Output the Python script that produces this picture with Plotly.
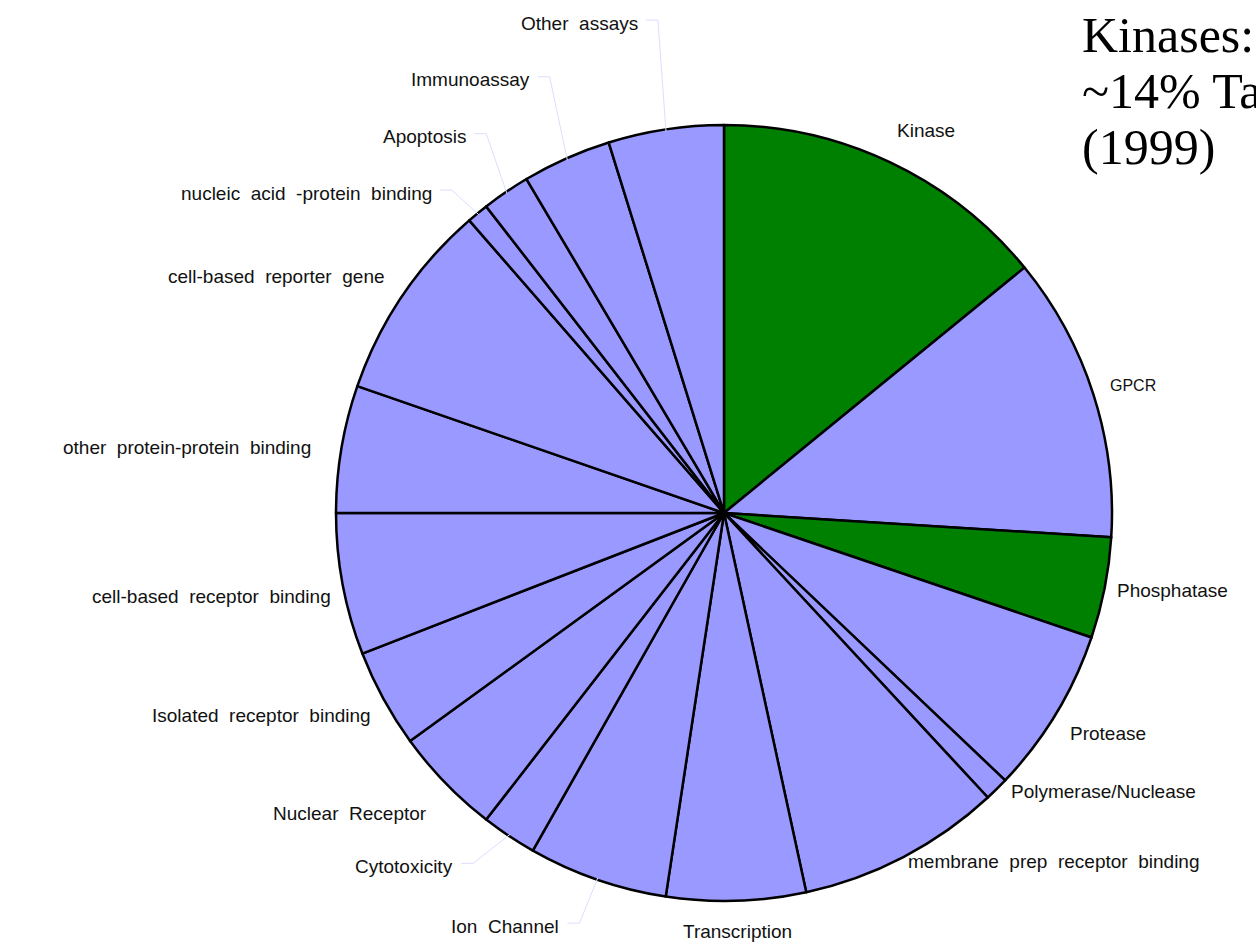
import math
import plotly.graph_objects as go

# ---- data (percent of screens) ----
categories = [
    "Kinase", "GPCR", "Phosphatase", "Protease", "Polymerase/Nuclease",
    "membrane prep receptor binding", "Transcription", "Ion Channel",
    "Cytotoxicity", "Nuclear Receptor", "Isolated receptor binding",
    "cell-based receptor binding", "other protein-protein binding",
    "cell-based reporter gene", "nucleic acid -protein binding",
    "Apoptosis", "Immunoassay", "Other assays",
]
values = [14.1, 11.9, 4.2, 6.9, 1.0, 8.5, 5.8, 5.8, 2.3, 4.5, 4.1, 5.9,
          5.3, 8.3, 0.9, 2.0, 3.7, 4.8]
highlight = ["Kinase", "Phosphatase"]
title_lines = ["Kinases:", "~14% Targets", "(1999)"]

# ---- style ----
W, H = 1256, 943
CX, CY, R = 724, 513, 388
GREEN, LAV = "#008000", "#9999FF"
label_dist = [419, 405, 399, 409, 398, 393, 419, 444, 444, 421, 405, 400,
              416, 412, 432, 455, 474, 497]
label_nudge = [-1.3, -0.6, 0, 1.5, -1, 0, 0, 2.4, 3.6, -1.4, -1.4, -1.4,
               -0.5, 1, -2.8, 0, 0, -1.1]
leader = {"Ion Channel", "Cytotoxicity", "nucleic acid -protein binding",
          "Apoptosis", "Immunoassay", "Other assays"}
LABEL_FONT = dict(family="Liberation Sans, Arial, sans-serif", size=19, color="#111111")

colors = [GREEN if c in highlight else LAV for c in categories]

fig = go.Figure(go.Pie(
    labels=categories, values=values, sort=False, direction="clockwise",
    rotation=0, textinfo="none", hoverinfo="label+percent",
    marker=dict(colors=colors, line=dict(color="black", width=2.5)),
    domain=dict(x=[(CX - R) / W, (CX + R) / W],
                y=[(H - CY - R) / H, (H - CY + R) / H]),
    showlegend=False,
))

def px2paper(x, y):
    return x / W, 1 - y / H

total = sum(values)
annotations = []
shapes = []
cum = 0.0
for i, (cat, v) in enumerate(zip(categories, values)):
    mid = (cum + v / 2) / total * 360
    cum += v
    ang = math.radians(mid + label_nudge[i])
    d = label_dist[i]
    lx = CX + d * math.sin(ang)
    ly = CY - d * math.cos(ang)
    if cat == "Transcription":
        xa = "center"
    elif mid < 180:
        xa = "left"
    else:
        xa = "right"
    text = cat.replace(" ", " \u00a0")
    font = dict(LABEL_FONT)
    if cat == "GPCR":
        font = dict(family="Liberation Sans Narrow, Arial Narrow, sans-serif",
                    size=16, color="#111111")
    x, y = px2paper(lx, ly)
    annotations.append(dict(x=x, y=y, xref="paper", yref="paper", text=text,
                            showarrow=False, xanchor=xa, yanchor="middle",
                            font=font))
    if cat in leader:
        m = math.radians(mid)
        ex = CX + (R - 2) * math.sin(m)
        ey = CY - (R - 2) * math.cos(m)
        x0, y0 = lx + 6, ly - 3
        x1 = x0 + 12
        p0 = px2paper(x0, y0)
        p1 = px2paper(x1, y0)
        p2 = px2paper(ex, ey)
        shapes.append(dict(
            type="path", xref="paper", yref="paper",
            path=f"M {p0[0]} {p0[1]} L {p1[0]} {p1[1]} L {p2[0]} {p2[1]}",
            line=dict(color="#DDDDFF", width=1)))

title_y = [35, 91, 147]
for t, yy in zip(title_lines, title_y):
    x, y = px2paper(1080, yy)
    annotations.append(dict(x=x, y=y, xref="paper", yref="paper", text=t,
                            showarrow=False, xanchor="left", yanchor="middle",
                            font=dict(family="Liberation Serif, Times New Roman, serif",
                                      size=50, color="black")))

fig.update_layout(
    width=W, height=H, margin=dict(l=0, r=0, t=0, b=0),
    paper_bgcolor="white", plot_bgcolor="white",
    annotations=annotations, shapes=shapes,
)
fig.write_html("out.html", config={"displayModeBar": False},
               post_script="document.body.style.margin='0px';document.body.style.overflow='hidden';")
